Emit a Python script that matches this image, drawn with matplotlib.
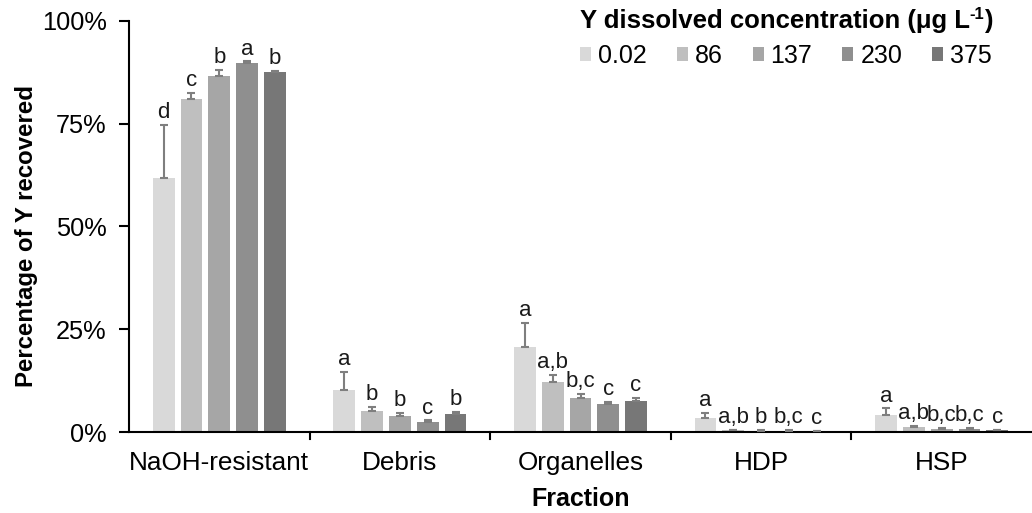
import matplotlib.pyplot as plt
import numpy as np
from matplotlib.patches import Patch

plt.rcParams['font.family'] = ['Liberation Sans', 'DejaVu Sans']

fractions = ['NaOH-resistant', 'Debris', 'Organelles', 'HDP', 'HSP']
concentrations = ['0.02', '86', '137', '230', '375']
colors = ['#d9d9d9', '#bfbfbf', '#a6a6a6', '#8f8f8f', '#777777']

# mean % recovered, one list per concentration (order follows fractions)
means = [
    [61.8, 10.2, 20.6, 3.3, 4.1],
    [81.0, 5.1, 12.1, 0.4, 1.1],
    [86.6, 3.9, 8.3, 0.3, 0.8],
    [89.7, 2.4, 6.7, 0.3, 0.8],
    [87.5, 4.3, 7.5, 0.2, 0.4],
]
# standard deviation (upper bars only)
errors = [
    [12.9, 4.4, 6.0, 1.4, 1.7],
    [1.6, 1.1, 1.8, 0.2, 0.4],
    [1.5, 0.8, 1.0, 0.2, 0.2],
    [0.5, 0.4, 0.6, 0.2, 0.2],
    [0.3, 0.6, 0.8, 0.1, 0.1],
]
letters = [
    ['d', 'a', 'a', 'a', 'a'],
    ['c', 'b', 'a,b', 'a,b', 'a,b'],
    ['b', 'b', 'b,c', 'b', 'b,c'],
    ['a', 'c', 'c', 'b,c', 'b,c'],
    ['b', 'b', 'c', 'c', 'c'],
]

fig = plt.figure(figsize=(10.32, 5.13), dpi=100)
ax = fig.add_axes([129 / 1032, 1 - 432 / 513, 1 - 129 / 1032, (432 - 21) / 513])

x = np.arange(len(fractions))
pitch = 0.154
width = 0.12
for i, (m, e, lab) in enumerate(zip(means, errors, letters)):
    xs = x + (i - 2) * pitch
    ax.bar(xs, m, width, color=colors[i], zorder=2)
    ax.errorbar(xs, m, yerr=[np.zeros(len(e)), e], fmt='none', ecolor='#7f7f7f',
                elinewidth=1.5, capsize=2.6, capthick=1.5, zorder=3)
    for xi, mi, ei, t in zip(xs, m, e, lab):
        ax.text(xi, mi + ei + 0.4, t, ha='center', va='bottom', fontsize=16, color='#1a1a1a')

ax.set_xlim(-0.5, 4.46)
ax.set_ylim(0, 100)
ax.set_yticks([0, 25, 50, 75, 100])
ax.set_yticklabels(['0%', '25%', '50%', '75%', '100%'])
ax.set_xticks(x + 0.5)
ax.set_xticks(x, minor=True)
ax.set_xticklabels([], minor=False)
ax.set_xticklabels(fractions, minor=True)
ax.tick_params(axis='x', which='minor', length=0, pad=14, labelsize=18.8)
ax.tick_params(axis='x', which='major', length=0)
ax.tick_params(axis='y', direction='out', length=7, width=1.5, pad=9, labelsize=18.3)

# separators between groups, hanging below the axis
for b in x[:-1] + 0.5:
    ax.plot([b, b], [0, -1.8], color='black', lw=1.5, clip_on=False, zorder=4)

for s in ['top', 'right']:
    ax.spines[s].set_visible(False)
ax.spines['left'].set_linewidth(1.5)
ax.spines['bottom'].set_linewidth(1.5)

ax.set_ylabel('Percentage of Y recovered', fontsize=17.3, fontweight='bold')
ax.yaxis.set_label_coords((38 - 129) / 903, 0.477)
ax.set_xlabel('Fraction', fontsize=18, fontweight='bold', labelpad=8)

# legend title built from pieces so the superscript keeps a plain hyphen
fig.canvas.draw()
renderer = fig.canvas.get_renderer()
ty = 1 - 21 / 513
right = 993 / 1032
close = fig.text(right, ty, ')', ha='right', va='center', fontsize=18.5, fontweight='bold')
w = close.get_window_extent(renderer).width / 1032
sup = fig.text(right - w, ty + 7 / 513, '-1', ha='right', va='center',
               fontsize=12, fontweight='bold')
w += sup.get_window_extent(renderer).width / 1032
fig.text(right - w, ty, 'Y dissolved concentration (μg L', ha='right', va='center',
         fontsize=18.5, fontweight='bold')

handles = [Patch(facecolor=c) for c in colors]
fig.legend(handles, concentrations, ncol=5, loc='center right',
           bbox_to_anchor=(992 / 1032, 1 - 56 / 513), frameon=False, fontsize=18,
           handlelength=0.44, handleheight=0.44, handletextpad=0.28,
           columnspacing=1.2, borderpad=0, borderaxespad=0)

fig.savefig('out.png', dpi=100)
